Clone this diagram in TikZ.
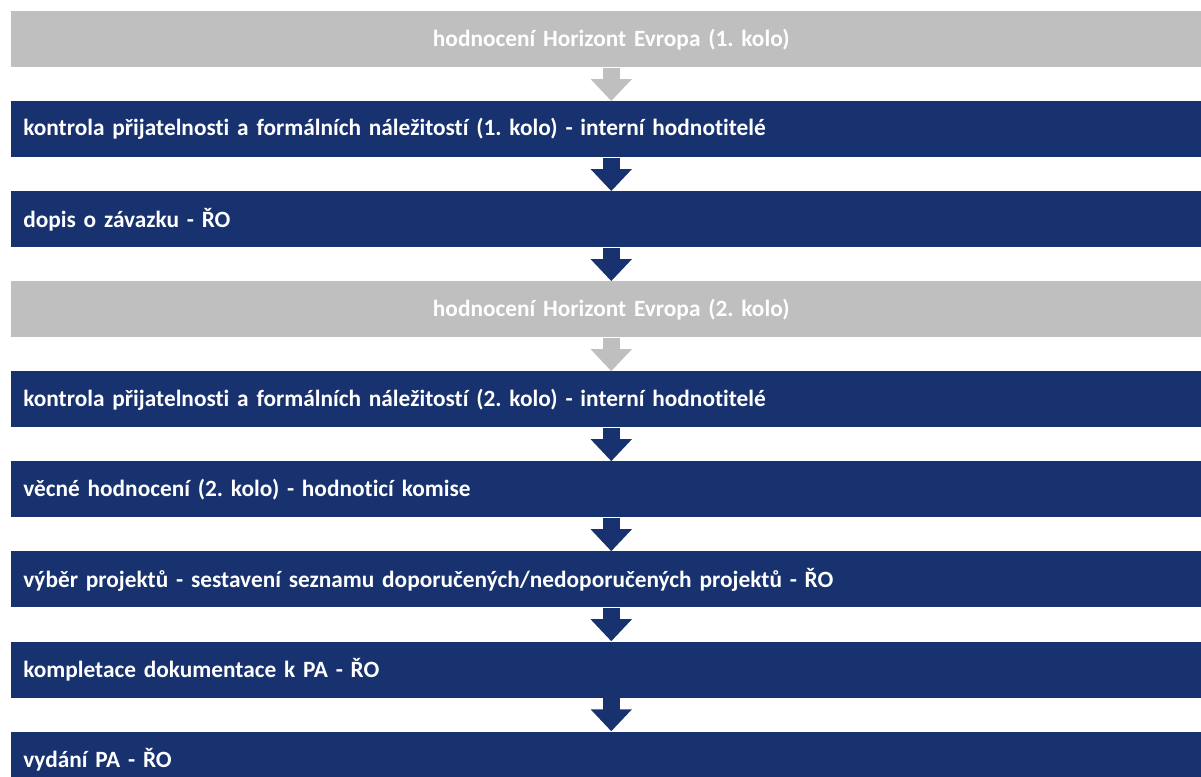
\documentclass[tikz,border=0pt]{standalone}
\usepackage{fontspec}
\setmainfont{Carlito}[Ligatures=NoCommon]
\usepackage{xcolor}
\usepackage{tikz}
\usetikzlibrary{positioning,arrows.meta}
\frenchspacing

\definecolor{navy}{RGB}{23,50,110}
\definecolor{lightgrey}{RGB}{191,191,191}

\begin{document}
\begin{tikzpicture}[
  node distance=25.125pt,
  stage/.style={rectangle, minimum height=42pt, minimum width=900pt, text width=882pt, inner xsep=9pt, inner ysep=0pt, font=\fontsize{17.5pt}{20pt}\selectfont\bfseries, text=white},
  task/.style={stage, fill=navy, align=left},
  extern/.style={stage, fill=lightgrey, align=center},
  flow/.style={line width=12.75pt, -{Triangle[width=30pt,length=16.5pt]}},
  taskflow/.style={flow, draw=navy},
  externflow/.style={flow, draw=lightgrey}
]
  \clip (0,0) rectangle (900.75pt,-582pt);

  \node[extern, anchor=north west] (round1) at (8.25pt,-8.25pt) {hodnocení Horizont Evropa (1. kolo)};
  \node[task, below=of round1] (check1) {kontrola přijatelnosti a formálních náležitostí (1. kolo) - interní hodnotitelé};
  \node[task, below=of check1] (letter) {dopis o závazku - ŘO};
  \node[extern, below=of letter] (round2) {hodnocení Horizont Evropa (2. kolo)};
  \node[task, below=of round2] (check2) {kontrola přijatelnosti a formálních náležitostí (2. kolo) - interní hodnotitelé};
  \node[task, below=of check2] (panel) {věcné hodnocení (2. kolo) - hodnoticí komise};
  \node[task, below=of panel] (select) {výběr projektů - sestavení seznamu doporučených/nedoporučených projektů - ŘO};
  \node[task, below=of select] (docs) {kompletace dokumentace k PA - ŘO};
  \node[task, below=of docs] (issue) {vydání PA - ŘO};

  \draw[externflow] (round1) -- (check1);
  \draw[taskflow] (check1) -- (letter);
  \draw[taskflow] (letter) -- (round2);
  \draw[externflow] (round2) -- (check2);
  \draw[taskflow] (check2) -- (panel);
  \draw[taskflow] (panel) -- (select);
  \draw[taskflow] (select) -- (docs);
  \draw[taskflow] (docs) -- (issue);
\end{tikzpicture}
\end{document}
